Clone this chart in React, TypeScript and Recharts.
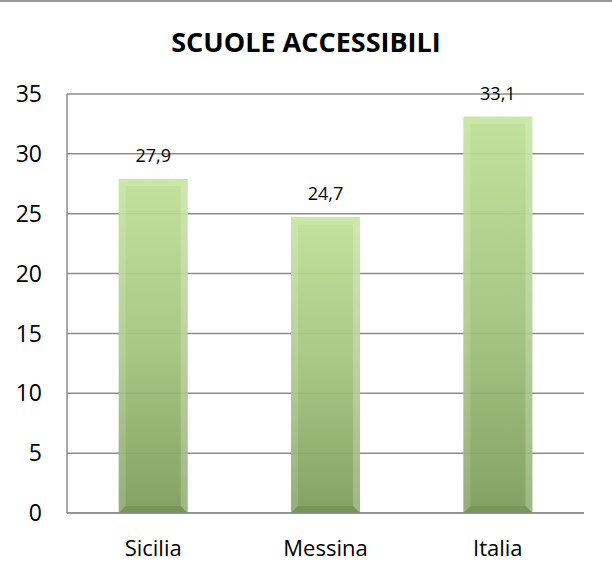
import { BarChart, Bar, XAxis, YAxis, CartesianGrid, LabelList } from 'recharts'

const categories = ['Sicilia', 'Messina', 'Italia']
const values = [27.9, 24.7, 33.1]
const yTicks = [0, 5, 10, 15, 20, 25, 30, 35]

const data = categories.map((name, i) => ({ name, value: values[i] }))

const FONT = '"Open Sans", "Liberation Sans", sans-serif'

// bevelled bar in the style of the old office charts
function BevelBar(props: any) {
  const { x, y, width, height } = props
  if (!height || height <= 0) return null
  const b = 7
  return (
    <g opacity={0.92}>
      <rect x={x} y={y} width={width} height={height} fill="url(#barGrad)" />
      <polygon
        points={`${x},${y} ${x + width},${y} ${x + width - b},${y + b} ${x + b},${y + b}`}
        fill="#c6e6a0"
      />
      <polygon
        points={`${x},${y} ${x + b},${y + b} ${x + b},${y + height - b} ${x},${y + height}`}
        fill="#ffffff"
        fillOpacity={0.15}
      />
      <polygon
        points={`${x + width},${y} ${x + width - b},${y + b} ${x + width - b},${y + height - b} ${x + width},${y + height}`}
        fill="#ffffff"
        fillOpacity={0.22}
      />
      <polygon
        points={`${x},${y + height} ${x + b},${y + height - b} ${x + width - b},${y + height - b} ${x + width},${y + height}`}
        fill="#5a7a3a"
        fillOpacity={0.4}
      />
    </g>
  )
}

export default function App() {
  return (
    <div style={{ position: 'absolute', left: 0, top: 0, width: 612, height: 577, background: '#fff' }}>
      <div style={{ position: 'absolute', left: 0, top: 0, width: 612, borderTop: '2px solid #999' }} />
      <div
        style={{
          position: 'absolute',
          left: 0,
          top: 28,
          width: 612,
          textAlign: 'center',
          fontFamily: FONT,
          fontWeight: 700,
          fontSize: 27,
          lineHeight: '27px',
          color: '#000',
        }}
      >
        SCUOLE ACCESSIBILI
      </div>
      <BarChart
        width={612}
        height={577}
        data={data}
        margin={{ top: 94, right: 28, left: 0, bottom: 30 }}
        barCategoryGap="30%"
      >
        <defs>
          <linearGradient id="barGrad" x1="0" y1="0" x2="0" y2="1">
            <stop offset="0%" stopColor="#bde094" />
            <stop offset="50%" stopColor="#a2c37d" />
            <stop offset="100%" stopColor="#7a9a57" />
          </linearGradient>
        </defs>
        <CartesianGrid vertical={false} stroke="#8c8c8c" strokeWidth={1.5} />
        <XAxis
          dataKey="name"
          height={34}
          axisLine={{ stroke: '#8c8c8c', strokeWidth: 1.5 }}
          tickLine={false}
          tickSize={0}
          tickMargin={27}
          tick={{ fill: '#000', fontSize: 22, fontFamily: FONT }}
        />
        <YAxis
          width={67}
          domain={[0, 35]}
          ticks={yTicks}
          axisLine={{ stroke: '#8c8c8c', strokeWidth: 1.5 }}
          tickLine={false}
          tickSize={0}
          tickMargin={25}
          tick={{ fill: '#000', fontSize: 23, fontFamily: FONT }}
        />
        <Bar dataKey="value" shape={<BevelBar />} isAnimationActive={false}>
          <LabelList
            dataKey="value"
            position="top"
            offset={17}
            formatter={(v: any) => String(v).replace('.', ',')}
            style={{ fill: '#000', fontSize: 18, fontFamily: FONT }}
          />
        </Bar>
      </BarChart>
    </div>
  )
}
